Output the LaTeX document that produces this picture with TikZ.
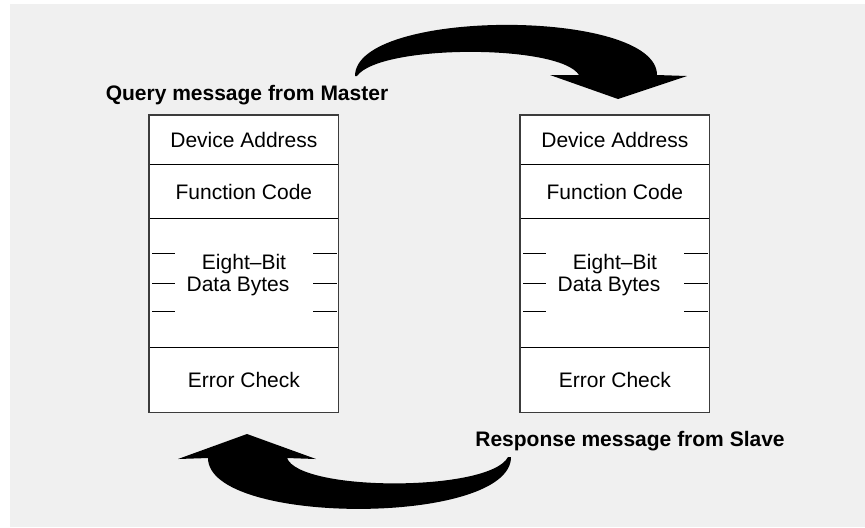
\documentclass[tikz,border=0pt]{standalone}
\usepackage{fontspec}
\setmainfont{Liberation Sans}
\usetikzlibrary{positioning}
\definecolor{panel}{HTML}{F0F0F0}
\definecolor{frame}{HTML}{3C3C3C}
\begin{document}
\begin{tikzpicture}[x=0.5pt, y=-0.5pt, font=\fontsize{10.5}{12}\selectfont,
        field/.style={minimum width=94.5pt, inner sep=0pt, fill=white},
        label/.style={anchor=base, font=\fontsize{10.5}{12}\selectfont\bfseries}]
        \useasboundingbox (0,0) rectangle (865,527);
        \fill[white] (0,0) rectangle (865,527);
        \fill[panel] (10,4) rectangle (865,527);
        \foreach \bx/\nm in {149/mst, 520/slv}
        {
            \node[field, minimum height=24.5pt, anchor=north west] (\nm-addr) at (\bx,115) {Device Address};
            \node[field, minimum height=26.5pt, below=0pt of \nm-addr] (\nm-func) {Function Code};
            \node[field, minimum height=64pt, below=0pt of \nm-func] (\nm-data) {};
            \node[field, minimum height=32pt, below=0pt of \nm-data] (\nm-crc) {Error Check};
            \node[anchor=base] (\nm-bit) at (\bx+95,269) {Eight–Bit};
            \node[anchor=base] (\nm-bytes) at (\bx+89,291) {Data Bytes};
            \foreach \dy in {15, 0, -14}
            {
                \draw[line width=0.5pt] ([xshift=1.5pt, yshift=\dy pt]\nm-data.west) -- ++(11.5pt,0);
                \draw[line width=0.5pt] ([xshift=-1pt, yshift=\dy pt]\nm-data.east) -- ++(-12pt,0);
            }
            \draw[line width=0.6pt] (\nm-addr.south west) -- (\nm-addr.south east);
            \draw[line width=0.6pt] (\nm-func.south west) -- (\nm-func.south east);
            \draw[line width=0.6pt] (\nm-data.south west) -- (\nm-data.south east);
            \draw[frame, line width=0.6pt] (\nm-addr.north west) rectangle (\nm-crc.south east);
        }
        \node[label] (query) at (247,100) {Query message from Master};
        \node[label] (response) at (630,446) {Response message from Slave};
        \fill (355,76) .. controls (355,8) and (657,8) .. (657,75)
            -- (687,76) -- (618,99) -- (550,75) -- (579,75)
            .. controls (560,44) and (380,44) .. (357,76) -- cycle;
        \fill (511,457) .. controls (511,526) and (208,526) .. (208,458)
            -- (178,459) -- (247,434) -- (316,459) -- (287,458)
            .. controls (300,492) and (490,492) .. (508,457) -- cycle;
    \end{tikzpicture}
\end{document}
